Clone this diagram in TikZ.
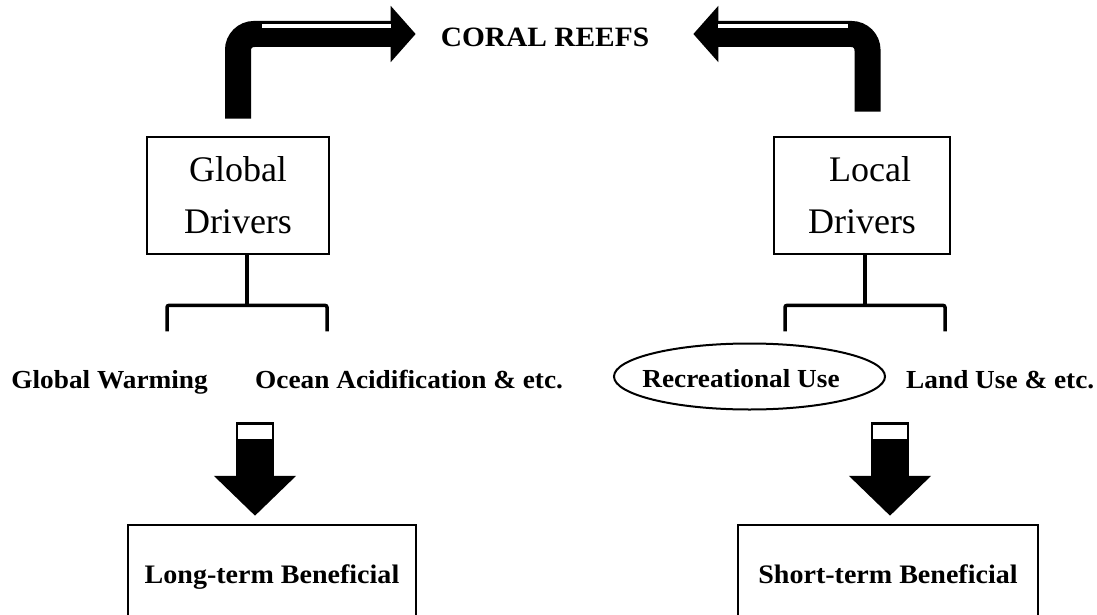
\documentclass[tikz,border=0pt]{standalone}
\usepackage{fontspec}
\setmainfont{Liberation Serif}
\newfontfamily\lblfont{Liberation Serif}[FakeStretch=1.05]
\usetikzlibrary{arrows.meta,shapes.geometric,calc}
\begin{document}
\begin{tikzpicture}[x=1pt,y=-1pt,
  box/.style={draw,line width=2.7pt,inner sep=0pt,align=center,font=\fontsize{36}{52}\selectfont},
  lbl/.style={inner sep=0pt,font=\lblfont\bfseries\fontsize{26}{30}\selectfont},
  big/.style={inner sep=0pt,font=\lblfont\bfseries\fontsize{28}{32}\selectfont},
  bot/.style={inner sep=0pt,text height=19pt,text depth=6pt,font=\lblfont\bfseries\fontsize{26.7}{30}\selectfont},
  bent/.style={line width=26pt,rounded corners=16pt,-{Triangle[width=55pt,length=25pt]}},
  downarr/.style={line width=38pt,-{Triangle[width=80pt,length=40pt]}},
  brk/.style={line width=3.5pt,rounded corners=2pt},
  hl/.style={white,line width=4pt},
  bottombox/.style={draw,line width=2.5pt,inner sep=0pt}
]
\useasboundingbox (0,0) rectangle (1097,615);
\clip (0,0) rectangle (1097,615);
\fill[white] (0,0) rectangle (1097,615);

% title
\node[big] (coral) at (545,37.5) {CORAL REEFS};

% driver boxes
\node[box,minimum width=182pt,minimum height=117pt] (gd) at (238,195.5) {Global\\Drivers};
\node[box,minimum width=176pt,minimum height=117pt] (ld) at (862,195.5) {\hspace*{16pt}Local\\Drivers};

% bent arrows to coral reefs
\draw[bent] ([yshift=17pt]gd.north) |- ([xshift=-25pt,yshift=3.5pt]coral.west);
\draw[bent] ([xshift=5.5pt,yshift=24pt]ld.north) |- ([xshift=44pt,yshift=3.5pt]coral.east);
\draw[hl] (262,26) -- (391,26);
\draw[hl] (718,26) -- (848,26);

% brackets
\coordinate (lb) at ([xshift=9pt,yshift=-50pt]gd.south);
\draw[brk] (gd.south -| lb) -- (lb);
\draw[brk] ([shift={(-80pt,-26pt)}]lb) -- ([xshift=-80pt]lb) -- ([xshift=80pt]lb) -- ([shift={(80pt,-26pt)}]lb);
\coordinate (rb) at ([xshift=3pt,yshift=-50pt]ld.south);
\draw[brk] (ld.south -| rb) -- (rb);
\draw[brk] ([shift={(-80pt,-26pt)}]rb) -- ([xshift=-80pt]rb) -- ([xshift=80pt]rb) -- ([shift={(80pt,-26pt)}]rb);

% driver examples
\node[lbl,anchor=base east] (gw) at (208,388) {Global Warming};
\node[lbl,anchor=base west] (oa) at (255,388) {Ocean Acidification \& etc.};
\node[draw,ellipse,line width=2pt,inner sep=0pt,minimum width=271pt,minimum height=66pt] (ru) at (749.5,376.5) {};
\node[lbl,anchor=base] (rut) at (741,387) {Recreational Use};
\node[lbl,anchor=base west] (lu) at (906,388) {Land Use \& etc.};

% bottom boxes
\node[bottombox,bot,minimum width=288pt,minimum height=104pt] (lt) at (272,577) {Long-term Beneficial};
\node[bottombox,bot,minimum width=300pt,minimum height=104pt] (st) at (888,577) {Short-term Beneficial};

% down arrows
\coordinate (la) at (255,422);
\coordinate (ra) at (890,422);
\draw[downarr] (la) -- ($(la |- lt.north)+(0,-8)$);
\draw[downarr] (ra) -- ($(ra |- st.north)+(0,-8)$);
\fill[white] ($(la)+(-17,2.5)$) rectangle ($(la)+(17,17)$);
\fill[white] ($(ra)+(-17,2.5)$) rectangle ($(ra)+(17,17)$);
\end{tikzpicture}
\end{document}
